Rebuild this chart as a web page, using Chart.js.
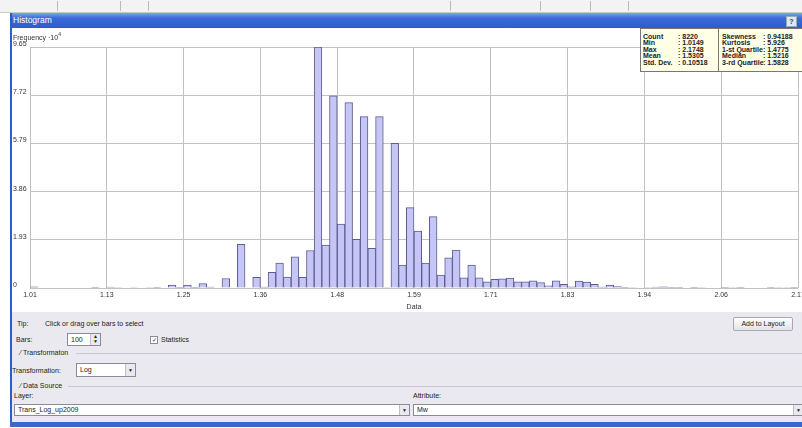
<!DOCTYPE html>
<html>
<head>
<meta charset="utf-8">
<script src="https://cdn.jsdelivr.net/npm/chart.js@4.4.1/dist/chart.umd.min.js"></script>
<style>
  html, body { margin:0; padding:0; width:802px; height:428px; overflow:hidden; background:#fff; font-family:"Liberation Sans", Arial, sans-serif; color:#222; }
  .abs { position:absolute; white-space:nowrap; }
  #topbar { left:0; top:0; width:802px; height:12px; background:#f3f3f3; border-bottom:1px solid #c9c9c9; }
  .sep { top:1px; width:1px; height:10px; background:#bbb; }
  #titlebar { left:10px; top:13px; width:792px; height:15px; background:linear-gradient(#7aa3ee, #3a6bd8 35%, #2d5ccb); color:#fff; font-size:8.5px; line-height:15px; }
  #frameL { left:10px; top:13px; width:2px; height:414px; background:#2d5ccb; }
  #frameB { left:10px; top:422px; width:792px; height:5px; background:#3a67c9; }
  #help { left:786px; top:16px; width:9px; height:9px; background:#dfe8f8; border:1px solid #9ab; font-size:7px; line-height:9px; text-align:center; color:#245; font-weight:bold; }
  #chartBox { left:12px; top:28px; width:796px; height:284px; }
  #ylabel { left:13px; top:31px; font-size:7px; color:#333; }
  #ylabel sup { font-size:5px; vertical-align:4px; }
  #stats { left:640px; top:28px; width:170px; height:42px; background:#ffffe6; border:1px solid #777; font-size:7px; font-weight:bold; color:#222; }
  #stats .div { left:77px; top:0; width:1px; height:42px; background:#777; }
  #stats .t { line-height:7px; transform:scaleY(0.9); transform-origin:left top; }
  #panel { left:12px; top:312px; width:790px; height:110px; background:#eae9ef; font-size:7px; color:#222; }
  .box { background:#fff; border:1px solid #8a8a9a; }
  .btn { background:linear-gradient(#fdfdfd, #e4e4e8); border:1px solid #a9a9b4; border-radius:2px; text-align:center; }
  .arrow { background:#e9e9ef; border-left:1px solid #c0c0c8; font-size:5px; text-align:center; }
  .gline { height:1px; background:#c8c8d0; }
</style>
</head>
<body>
<div id="topbar" class="abs">
  <div class="abs sep" style="left:57px"></div>
  <div class="abs sep" style="left:120px"></div>
  <div class="abs sep" style="left:148px"></div>
  <div class="abs sep" style="left:450px"></div>
  <div class="abs sep" style="left:540px"></div>
  <div class="abs sep" style="left:590px"></div>
  <div class="abs sep" style="left:628px"></div>
</div>
<div id="titlebar" class="abs"><span style="margin-left:3px">Histogram</span></div>
<div id="help" class="abs">?</div>
<div id="chartBox" class="abs"><canvas id="hist" width="796" height="284"></canvas></div>
<div id="ylabel" class="abs">Frequency ·10<sup>4</sup></div>
<div id="stats" class="abs"></div>
<div id="panel" class="abs">
  <div class="abs" style="left:5px;top:8px">Tip:</div>
  <div class="abs" style="left:33px;top:8px">Click or drag over bars to select</div>
  <div class="abs btn" style="left:721px;top:5px;width:58px;height:12px;line-height:12px">Add to Layout</div>
  <div class="abs" style="left:4px;top:24px">Bars:</div>
  <div class="abs box" style="left:55px;top:21px;width:32px;height:11px;line-height:11px"><span style="margin-left:3px">100</span>
    <div class="abs arrow" style="right:0;top:0;width:9px;height:11px;line-height:5px">▲<br>▼</div></div>
  <div class="abs box" style="left:138px;top:24px;width:6px;height:6px;font-size:6px;line-height:6px;text-align:center">✓</div>
  <div class="abs" style="left:149px;top:24px">Statistics</div>
  <div class="abs" style="left:8px;top:37px">⁄ Transformaton</div>
  <div class="abs gline" style="left:64px;top:41px;width:726px"></div>
  <div class="abs" style="left:0px;top:55px">Transformation:</div>
  <div class="abs box" style="left:64px;top:51px;width:58px;height:12px;line-height:12px"><span style="margin-left:3px">Log</span>
    <div class="abs arrow" style="right:0;top:0;width:9px;height:12px;line-height:12px">▼</div></div>
  <div class="abs" style="left:8px;top:70px">⁄ Data Source</div>
  <div class="abs gline" style="left:56px;top:74px;width:734px"></div>
  <div class="abs" style="left:2px;top:80px">Layer:</div>
  <div class="abs box" style="left:2px;top:92px;width:394px;height:10px;line-height:10px"><span style="margin-left:3px">Trans_Log_up2009</span>
    <div class="abs arrow" style="right:0;top:0;width:9px;height:10px;line-height:10px">▼</div></div>
  <div class="abs" style="left:401px;top:80px">Attribute:</div>
  <div class="abs box" style="left:401px;top:92px;width:395px;height:10px;line-height:10px"><span style="margin-left:3px">Mw</span>
    <div class="abs arrow" style="right:6px;top:0;width:9px;height:10px;line-height:10px">▼</div></div>
</div>
<div id="frameL" class="abs"></div>
<div id="frameB" class="abs"></div>
<script>
// summary statistics shown in the box
const statNamesLeft = ['Count', 'Min', 'Max', 'Mean', 'Std. Dev.'];
const statValuesLeft = ['8220', '1.0149', '2.1748', '1.5305', '0.10518'];
const statNamesRight = ['Skewness', 'Kurtosis', '1-st Quartile', 'Median', '3-rd Quartile'];
const statValuesRight = ['0.94188', '5.926', '1.4775', '1.5216', '1.5828'];

// histogram: 100 bins between min and max
const dataMin = 1.0149;
const dataMax = 2.1748;
const frequencies = [
  0.05, 0, 0, 0, 0, 0, 0, 0, 0.01, 0,
  0.04, 0.02, 0, 0.02, 0, 0.02, 0.01, 0, 0.12, 0.01,
  0.12, 0.03, 0.18, 0.04, 0, 0.38, 0, 1.75, 0, 0.43,
  0.04, 0.63, 1.0, 0.44, 1.25, 0.43, 1.50, 9.65, 1.72, 7.69,
  2.56, 7.42, 1.95, 6.86, 1.59, 6.86, 0.02, 5.79, 0.92, 3.22,
  2.28, 1.0, 2.86, 0.52, 1.21, 1.52, 0.41, 0.92, 0.41, 0.25,
  0.35, 0.37, 0.40, 0.25, 0.25, 0.29, 0.22, 0.09, 0.29, 0.15,
  0.05, 0.28, 0.24, 0.15, 0.04, 0.12, 0.06, 0.03, 0.02, 0,
  0.02, 0.04, 0.05, 0.03, 0.01, 0, 0.01, 0.02, 0, 0,
  0.01, 0.02, 0.03, 0, 0, 0, 0.01, 0.02, 0.02, 0.03
];

const xTickValues = [1.0149, 1.1309, 1.2469, 1.3629, 1.4789, 1.5948, 1.7108, 1.8268, 1.9428, 2.0588, 2.1748];
const xTickLabels = ['1.01', '1.13', '1.25', '1.36', '1.48', '1.59', '1.71', '1.83', '1.94', '2.06', '2.17'];
const yTickValues = [0, 1.93, 3.86, 5.79, 7.72, 9.65];
const yTickLabels = ['0', '1.93', '3.86', '5.79', '7.72', '9.65'];

// fill stats box
const statsBox = document.getElementById('stats');
let html = '<div class="abs div"></div>';
for (let i = 0; i < statNamesLeft.length; i++) {
    const top = 5 + i * 6.4;
    html += `<div class="abs t" style="left:2px;top:${top}px">${statNamesLeft[i]}</div>`;
    html += `<div class="abs t" style="left:37px;top:${top}px">: ${statValuesLeft[i]}</div>`;
    html += `<div class="abs t" style="left:81px;top:${top}px">${statNamesRight[i]}</div>`;
    html += `<div class="abs t" style="left:122px;top:${top}px">: ${statValuesRight[i]}</div>`;
}
statsBox.innerHTML = html;

const binWidth = (dataMax - dataMin) / frequencies.length;
const points = frequencies.map((f, i) => ({ x: dataMin + (i + 0.5) * binWidth, y: f }));

Chart.defaults.font.family = '"Liberation Sans", Arial, sans-serif';
Chart.defaults.color = '#333';

const ctx = document.getElementById('hist').getContext('2d');
new Chart(ctx, {
    type: 'bar',
    data: {
        datasets: [{
            data: points,
            backgroundColor: '#c6c6f6',
            borderColor: '#5c5c8e',
            borderWidth: 1,
            borderSkipped: 'bottom',
            categoryPercentage: 1,
            barPercentage: 1
        }]
    },
    options: {
        responsive: false,
        animation: false,
        layout: { padding: { left: 1, right: 10, top: 19, bottom: 0 } },
        plugins: {
            legend: { display: false },
            tooltip: { enabled: false }
        },
        scales: {
            x: {
                type: 'linear',
                offset: false,
                min: dataMin,
                max: dataMax,
                afterBuildTicks: scale => { scale.ticks = xTickValues.map(v => ({ value: v })); },
                afterFit: scale => { scale.height = 24; },
                ticks: {
                    autoSkip: false,
                    maxRotation: 0,
                    padding: 3,
                    font: { size: 7 },
                    callback: (v, i) => xTickLabels[i]
                },
                grid: { color: '#c2c2c2', drawTicks: false, offset: false },
                border: { display: false },
                title: { display: true, text: 'Data', font: { size: 7 }, padding: { top: 0, bottom: 1 } }
            },
            y: {
                min: 0,
                max: 9.65,
                afterBuildTicks: scale => { scale.ticks = yTickValues.map(v => ({ value: v })); },
                afterFit: scale => { scale.width = 17; },
                ticks: {
                    crossAlign: 'far',
                    labelOffset: -3,
                    padding: 1,
                    font: { size: 7 },
                    callback: (v, i) => yTickLabels[i]
                },
                grid: { color: '#c2c2c2', drawTicks: false },
                border: { display: false }
            }
        }
    }
});
</script>
</body>
</html>
